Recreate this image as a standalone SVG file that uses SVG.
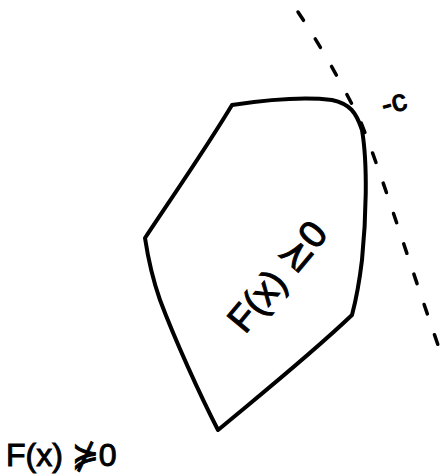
<svg xmlns="http://www.w3.org/2000/svg" width="443" height="476" viewBox="0 0 443 476">
<style>
.ink{fill:none;stroke:#000;stroke-linecap:round;stroke-linejoin:round}
.t{font-family:"Liberation Sans",sans-serif;fill:#000;stroke:#000;stroke-width:1}
</style>
<rect width="443" height="476" fill="#fff"/>
<g id="region">
<path class="ink" stroke-width="4" d="M218,430 C200,395 175,340 160,300 C153,280 148,258 145,238 C170,200 205,150 232,105 C265,100 300,96 332,100 C350,104 356,112 362,130 C368,165 366,220 362,260 C359,285 356,300 352,315 C310,355 260,395 218,430 Z"/>
</g>
<g id="tangent">
<path class="ink" stroke-width="3.5" stroke-dasharray="10,22" d="M298,12 C320,45 340,80 360,120 C382,175 400,235 438,345"/>
</g>
<g id="label-c">
<text class="t" x="382" y="112" font-size="30" transform="rotate(-15 395 105)">-c</text>
</g>
<g id="label-inside">
<text class="t" x="245" y="335" font-size="38" transform="rotate(-50 245 335)">F(x) ⪰0</text>
</g>
<g id="label-outside">
<text class="t" x="6" y="466" font-size="32">F(x) ⋡0</text>
</g>
</svg>
